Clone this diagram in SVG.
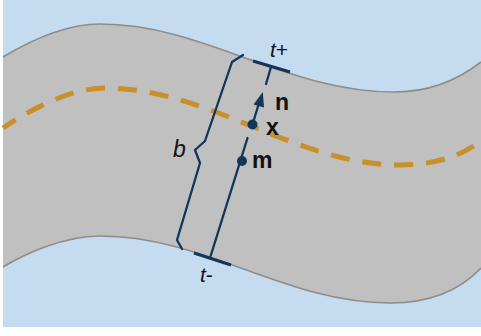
<svg xmlns="http://www.w3.org/2000/svg" width="481" height="336" viewBox="0 0 481 336">
  <style>
    .edge { fill: none; stroke: #8c8c8c; stroke-width: 1.6; }
    .center { fill: none; stroke: #c8902a; stroke-width: 5; stroke-dasharray: 19 13; }
    .navy { fill: none; stroke: #12355a; stroke-width: 2.3; stroke-linejoin: round; stroke-linecap: round; }
    .tick { fill: none; stroke: #12355a; stroke-width: 3; }
    .dot { fill: #12355a; }
    .lbl { font-family: "Liberation Sans", Arial, sans-serif; font-size: 21px; fill: #111; }
    .b { font-weight: bold; font-size: 23px; }
    .i { font-style: italic; }
    .big { font-size: 23px; }
  </style>
  <rect x="0" y="0" width="481" height="336" fill="#ffffff"/>
  <rect x="3" y="0" width="478" height="327" fill="#c5dbef"/>
  <g id="band">
    <path d="M3,57 C23,45 62,24 100,24 C205,24 285,92 395,92 C430,92 458,80 481,62 L481,268 C460,290 430,303 390,303 C285,303 205,236 100,236 C62,236 23,255 3,267 Z" fill="#c0c0c0"/>
    <path class="edge" d="M3,57 C23,45 62,24 100,24 C205,24 285,92 395,92 C430,92 458,80 481,62"/>
    <path class="edge" d="M3,267 C23,255 62,236 100,236 C205,236 285,303 390,303 C430,303 460,290 481,268"/>
  </g>
  <g id="centerline">
    <path class="center" stroke-dashoffset="4" d="M3,128 C30,110 70,88 105,88 C210,88 295,165 400,165 C440,165 465,153 481,141"/>
  </g>
  <g id="connectors">
    <polyline id="brace-b" class="navy" points="243,55 232,62 205,141 195,150 200,163 177,240 182,249"/>
    <line id="tangent-plus" class="tick" x1="253" y1="61" x2="290" y2="72"/>
    <line id="tangent-minus" class="tick" x1="194" y1="253" x2="231" y2="265"/>
    <line class="navy" x1="271" y1="67" x2="266" y2="84"/>
    <line class="navy" x1="252.5" y1="124.5" x2="259" y2="103"/>
    <polygon class="dot" points="262.8,92 264,107.5 253.5,104.5"/>
    <line class="navy" x1="247.5" y1="138" x2="210" y2="258"/>
  </g>
  <g id="node-x">
    <circle class="dot" cx="252.5" cy="124.5" r="5"/>
    <text class="lbl b" x="266" y="135">x</text>
  </g>
  <g id="node-m">
    <circle class="dot" cx="242" cy="161" r="5"/>
    <text class="lbl b" x="252" y="168">m</text>
  </g>
  <g id="label-n">
    <text class="lbl b" x="275" y="110">n</text>
  </g>
  <g id="label-b">
    <text class="lbl i big" x="173" y="157">b</text>
  </g>
  <g id="label-tplus">
    <text class="lbl" x="270" y="57"><tspan class="i">t</tspan>+</text>
  </g>
  <g id="label-tminus">
    <text class="lbl" x="200" y="282"><tspan class="i">t</tspan>-</text>
  </g>
</svg>
